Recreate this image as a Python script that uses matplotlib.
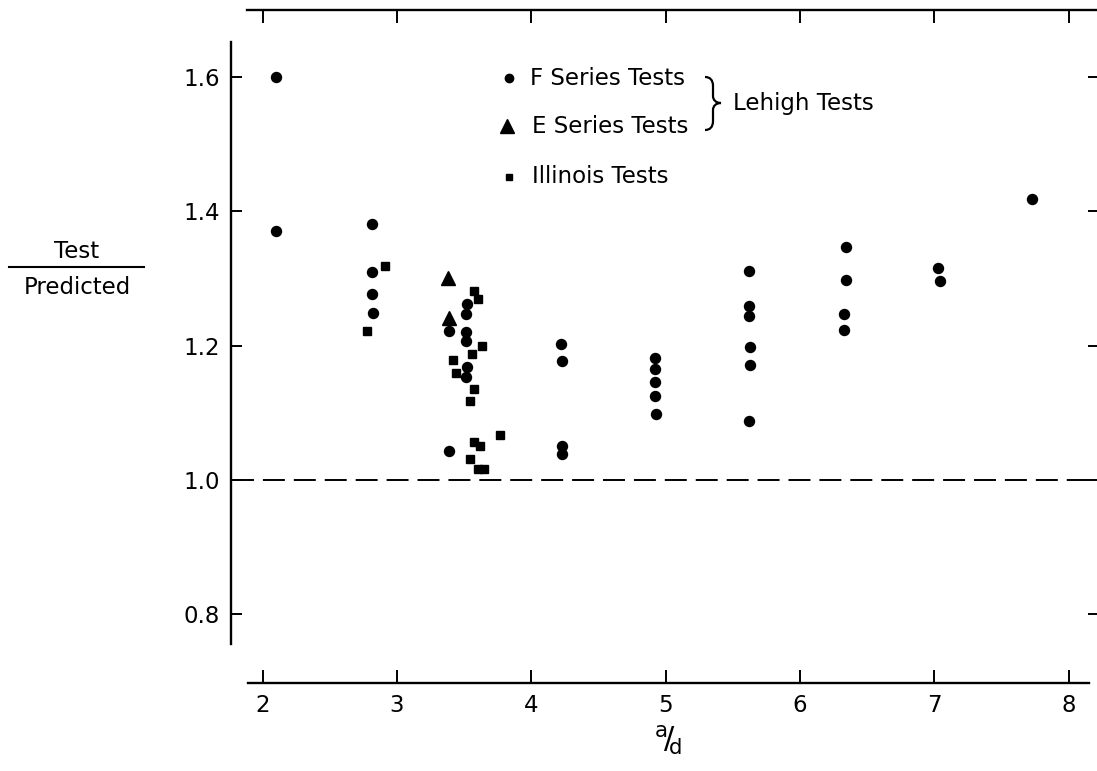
import matplotlib
matplotlib.use("Agg")
import matplotlib.pyplot as plt
from matplotlib.lines import Line2D
from matplotlib.path import Path
import matplotlib.patches as patches

# F series tests (Lehigh) - circles
f_x = [2.10, 2.10,
       2.81, 2.81, 2.81, 2.82,
       3.52, 3.51, 3.39, 3.51, 3.51, 3.52, 3.51, 3.39,
       4.22, 4.23, 4.23, 4.23,
       4.92, 4.92, 4.92, 4.92, 4.93,
       5.62, 5.62, 5.62, 5.63, 5.63, 5.62,
       6.34, 6.34, 6.33, 6.33,
       7.03, 7.04,
       7.73]
f_y = [1.600, 1.371,
       1.381, 1.310, 1.277, 1.249,
       1.262, 1.247, 1.222, 1.221, 1.207, 1.168, 1.153, 1.043,
       1.202, 1.177, 1.050, 1.038,
       1.181, 1.165, 1.146, 1.125, 1.098,
       1.311, 1.259, 1.244, 1.198, 1.171, 1.087,
       1.347, 1.298, 1.247, 1.224,
       1.316, 1.297,
       1.419]

# E series tests (Lehigh) - triangles
e_x = [3.38, 3.39]
e_y = [1.301, 1.241]

# Illinois tests - squares
il_x = [2.78, 2.91, 3.57, 3.60, 3.63, 3.56, 3.42, 3.44, 3.57, 3.54,
        3.77, 3.57, 3.62, 3.54, 3.60, 3.65]
il_y = [1.222, 1.319, 1.282, 1.270, 1.200, 1.187, 1.178, 1.159, 1.135, 1.117,
        1.067, 1.057, 1.051, 1.031, 1.016, 1.016]

x_ticks = [2, 3, 4, 5, 6, 7, 8]
y_ticks = [0.8, 1.0, 1.2, 1.4, 1.6]
y_tick_labels = ["0.8", "1.0", "1.2", "1.4", "1.6"]

W, H = 1097, 771
plt.rcParams['font.family'] = 'DejaVu Sans'
plt.rcParams['mathtext.default'] = 'regular'

fig = plt.figure(figsize=(W / 100, H / 100), dpi=100)
ax = fig.add_axes([247 / W, 1 - 683.3 / H, 850 / W, 673.3 / H])

ax.set_xlim(1.883, 8.211)
ax.set_ylim(0.6968, 1.7003)

ms_c, ms_t, ms_s = 7.2, 10, 6.3
ax.plot(f_x, f_y, 'o', color='black', markersize=ms_c, clip_on=False)
ax.plot(e_x, e_y, '^', color='black', markersize=ms_t, clip_on=False)
ax.plot(il_x, il_y, 's', color='black', markersize=ms_s, clip_on=False)

# reference line at 1.0, running out to the left spine
ax.plot([1.771, 8.211], [1.0, 1.0], color='black', linewidth=1.4,
        dashes=(11.3, 4.6), clip_on=False)

# spines
for side in ['left', 'bottom', 'top']:
    ax.spines[side].set_linewidth(1.7)
ax.spines['right'].set_visible(False)
ax.spines['left'].set_position(('outward', 11.7))
ax.spines['left'].set_bounds(0.755, 1.652)
ax.spines['bottom'].set_bounds(1.892, 8.149)

ax.set_xticks(x_ticks)
ax.set_xticklabels([str(t) for t in x_ticks])
ax.set_yticks(y_ticks)
ax.set_yticklabels(y_tick_labels)

ax.tick_params(axis='x', direction='in', length=9.2, width=1.4, pad=8,
               labelsize=16.5, top=True, bottom=True)
ax.tick_params(axis='y', direction='in', length=7.9, width=1.4, pad=7.5,
               labelsize=16.5, left=True, right=False)

# right-hand ticks without a spine
sec = ax.secondary_yaxis('right')
sec.set_yticks(y_ticks)
sec.set_yticklabels([])
sec.spines['right'].set_visible(False)
sec.tick_params(direction='in', length=6.5, width=1.4)

# legend drawn by hand
fs = 16.5
ax.plot([0.3086], [0.8986], 'o', color='black', markersize=6, transform=ax.transAxes)
ax.plot([0.3055], [0.8277], '^', color='black', markersize=10, transform=ax.transAxes)
ax.plot([0.3086], [0.7524], 's', color='black', markersize=5, transform=ax.transAxes)
ax.text(0.333, 0.8986, "F Series Tests", fontsize=fs, va='center', ha='left',
        transform=ax.transAxes)
ax.text(0.335, 0.8277, "E Series Tests", fontsize=fs, va='center', ha='left',
        transform=ax.transAxes)
ax.text(0.335, 0.7524, "Illinois Tests", fontsize=fs, va='center', ha='left',
        transform=ax.transAxes)
ax.text(0.5718, 0.8604, "Lehigh Tests", fontsize=fs, va='center', ha='left',
        transform=ax.transAxes)

# curly brace joining the two Lehigh series (pixel coords, y down)
brace_px = [(705, 77), (710, 77), (713, 80), (713, 86), (713, 96),
            (713, 100), (716, 103), (721, 103),
            (716, 103), (713, 106), (713, 110), (713, 121),
            (713, 127), (710, 130), (705, 130)]
codes = [Path.MOVETO, Path.CURVE4, Path.CURVE4, Path.CURVE4, Path.LINETO,
         Path.CURVE4, Path.CURVE4, Path.CURVE4,
         Path.CURVE4, Path.CURVE4, Path.CURVE4, Path.LINETO,
         Path.CURVE4, Path.CURVE4, Path.CURVE4]
brace = Path([(px / W, 1 - py / H) for px, py in brace_px], codes)
fig.add_artist(patches.PathPatch(brace, facecolor='none', edgecolor='black',
                                 linewidth=1.6, transform=fig.transFigure))

# y label as a fraction
fig.text(77 / W, 1 - 251 / H, "Test", fontsize=fs, ha='center', va='center')
fig.text(77 / W, 1 - 287 / H, "Predicted", fontsize=fs, ha='center', va='center')
fig.add_artist(Line2D([9 / W, 144 / W], [1 - 267 / H, 1 - 267 / H],
                      color='black', linewidth=1.5, transform=fig.transFigure))

# x label a/d
fig.text(668 / W, 1 - 740 / H, r'${}^{a}\!/\!{}_{d}$', fontsize=22,
         ha='center', va='center')

fig.savefig("out.png", dpi=100)
